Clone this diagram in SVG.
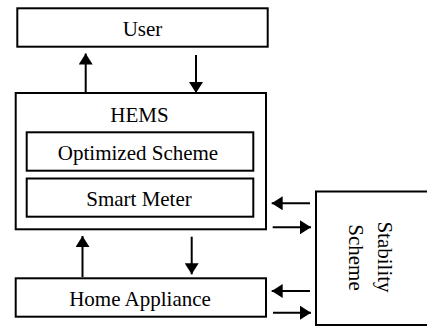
<svg xmlns="http://www.w3.org/2000/svg" width="427" height="327" viewBox="0 0 427 327">
<style>
.box{fill:#fff;stroke:#000;stroke-width:2}
.lbl{font-family:"Liberation Serif","Times New Roman",serif;font-size:21px;fill:#000;text-anchor:middle}
.arr{stroke:#000;stroke-width:2;fill:none;marker-end:url(#ah)}
</style>
<defs>
<marker id="ah" markerUnits="userSpaceOnUse" markerWidth="12" markerHeight="14" refX="11" refY="7" orient="auto" viewBox="0 0 12 14">
<path d="M0,0 L11,7 L0,14 z" fill="#000"/>
</marker>
</defs>
<rect width="427" height="327" fill="#fff"/>
<g id="user">
<rect class="box" x="17.3" y="8.3" width="250.4" height="38.4"/>
<text class="lbl" x="142.5" y="36">User</text>
</g>
<g id="hems">
<rect class="box" x="15.7" y="93" width="250.3" height="136.3"/>
<text class="lbl" x="139.5" y="122">HEMS</text>
</g>
<g id="optimized-scheme">
<rect class="box" x="26.7" y="132.3" width="226.6" height="38.4"/>
<text class="lbl" x="138" y="160">Optimized Scheme</text>
</g>
<g id="smart-meter">
<rect class="box" x="26.7" y="178.5" width="226.6" height="38.2"/>
<text class="lbl" x="139" y="206">Smart Meter</text>
</g>
<g id="home-appliance">
<rect class="box" x="15.7" y="278.3" width="250.3" height="38.4"/>
<text class="lbl" x="140" y="305.5">Home Appliance</text>
</g>
<g id="stability-scheme">
<rect class="box" x="316" y="191.5" width="120" height="133.5"/>
<text class="lbl" transform="translate(378,257) rotate(90)" x="0" y="0">Stability</text>
<text class="lbl" transform="translate(348.5,257.5) rotate(90)" x="0" y="0">Scheme</text>
</g>
<g id="connectors">
<line class="arr" x1="85.7" y1="92" x2="85.7" y2="53.5"/>
<line class="arr" x1="196" y1="55" x2="196" y2="93"/>
<line class="arr" x1="82.5" y1="277" x2="82.5" y2="236"/>
<line class="arr" x1="191.7" y1="236.7" x2="191.7" y2="274.3"/>
<line class="arr" x1="310" y1="203.3" x2="271.7" y2="203.3"/>
<line class="arr" x1="272.7" y1="227.3" x2="311" y2="227.3"/>
<line class="arr" x1="310" y1="291" x2="271.7" y2="291"/>
<line class="arr" x1="273" y1="312.7" x2="311" y2="312.7"/>
</g>
</svg>
